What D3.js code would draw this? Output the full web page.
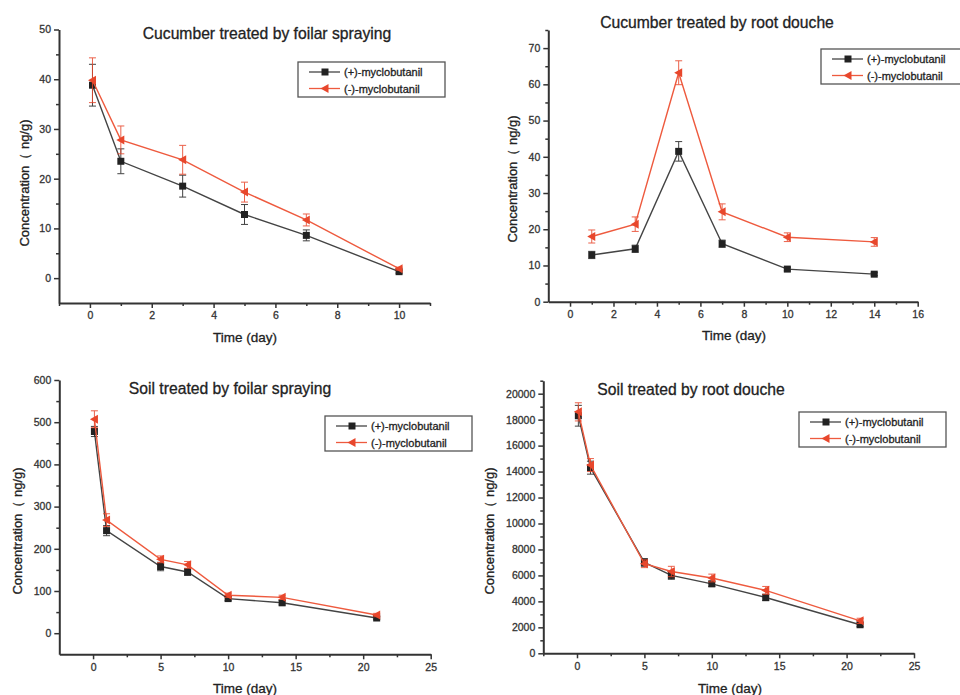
<!DOCTYPE html>
<html>
<head>
<meta charset="utf-8">
<script src="https://cdn.jsdelivr.net/npm/d3@7"></script>
<style>
  body { margin: 0; background: #fff; }
  svg { font-family: "Liberation Sans", Arial, sans-serif; }
  text { stroke: #222; stroke-width: 0.3; }
  .tick text { fill: #333; stroke: #333; font-size: 10.5px; }
  .domain, .tick line { stroke: #333; }
</style>
</head>
<body>
<div id="chart"></div>
<script>

// values
var seriesNames = ["(+)-myclobutanil", "(-)-myclobutanil"];

var cucFoliarDays = [0.083, 1, 3, 5, 7, 10];
var cucFoliarPlus = [38.8, 23.5, 18.5, 12.8, 8.6, 1.3];
var cucFoliarPlusErr = [4.2, 2.5, 2.2, 2.0, 1.1, 0.3];
var cucFoliarMinus = [39.8, 27.8, 23.8, 17.3, 11.7, 1.9];
var cucFoliarMinusErr = [4.5, 2.8, 2.9, 2.0, 1.2, 0.3];

var cucRootDays = [1, 3, 5, 7, 10, 14];
var cucRootPlus = [12.9, 14.6, 41.5, 16.0, 9.0, 7.6];
var cucRootPlusErr = [1.0, 1.0, 2.7, 1.0, 0.5, 0.4];
var cucRootMinus = [18.0, 21.4, 63.2, 24.8, 17.8, 16.5];
var cucRootMinusErr = [1.8, 2.0, 3.3, 2.2, 1.2, 1.2];

var soilFoliarDays = [0.1, 1, 5, 7, 10, 14, 21];
var soilFoliarPlus = [478, 243, 158, 145, 82, 72, 36];
var soilFoliarPlusErr = [12, 12, 10, 8, 5, 5, 3];
var soilFoliarMinus = [507, 268, 175, 162, 90, 85, 43];
var soilFoliarMinusErr = [20, 15, 8, 8, 5, 5, 4];

var soilRootDays = [0.1, 1, 5, 7, 10, 14, 21];
var soilRootPlus = [18300, 14300, 7000, 6000, 5350, 4300, 2200];
var soilRootPlusErr = [800, 500, 300, 300, 200, 250, 150];
var soilRootMinus = [18600, 14500, 6900, 6300, 5800, 4850, 2500];
var soilRootMinusErr = [700, 500, 300, 400, 300, 300, 200];

var titles = ["Cucumber treated by foilar spraying", "Cucumber treated by root douche",
              "Soil treated by foilar spraying", "Soil treated by root douche"];

var colors = ["#222", "#e8472c"];
var lineColors = ["#444", "#ee5a3e"];

var svg = d3.select("#chart").append("svg")
    .attr("width", 960)
    .attr("height", 695);

function drawPanel(p) {
    var x = d3.scaleLinear().domain(p.xDomain).range(p.xRange);
    var y = d3.scaleLinear().domain(p.yDomain).range(p.yRange);
    var g = svg.append("g");

    // minor ticks first, then the labelled ones
    g.append("g")
        .attr("transform", "translate(0," + p.yRange[0] + ")")
        .call(d3.axisBottom(x).tickValues(p.xMinor).tickSize(3).tickFormat(""))
        .call(function(a) { a.select(".domain").remove(); a.selectAll("line").attr("stroke-width", 1.5); });
    g.append("g")
        .attr("transform", "translate(" + p.xRange[0] + ",0)")
        .call(d3.axisLeft(y).tickValues(p.yMinor).tickSize(3).tickFormat(""))
        .call(function(a) { a.select(".domain").remove(); a.selectAll("line").attr("stroke-width", 1.5); });

    g.append("g")
        .attr("transform", "translate(0," + p.yRange[0] + ")")
        .call(d3.axisBottom(x).tickValues(p.xTicks).tickSize(5).tickSizeOuter(0).tickPadding(4).tickFormat(d3.format("d")))
        .call(function(a) {
            a.select(".domain").attr("stroke-width", 2);
            a.selectAll("line").attr("stroke-width", 1.5);
        });
    g.append("g")
        .attr("transform", "translate(" + p.xRange[0] + ",0)")
        .call(d3.axisLeft(y).tickValues(p.yTicks).tickSize(5).tickSizeOuter(0).tickPadding(3).tickFormat(d3.format("d")))
        .call(function(a) {
            a.select(".domain").attr("stroke-width", 2);
            a.selectAll("line").attr("stroke-width", 1.5);
        });

    // series
    p.series.forEach(function(s, i) {
        var pts = p.days.map(function(d, k) { return {x: d, y: s.v[k], e: s.err[k]}; });
        var line = d3.line()
            .x(function(d) { return x(d.x); })
            .y(function(d) { return y(d.y); });

        g.append("path")
            .datum(pts)
            .attr("fill", "none")
            .attr("stroke", lineColors[i])
            .attr("stroke-width", 1.4)
            .attr("d", line);

        var eb = g.append("g").attr("stroke", colors[i]).attr("stroke-width", 1).attr("opacity", 0.85);
        eb.selectAll(".v").data(pts).enter().append("line")
            .attr("x1", function(d) { return x(d.x); })
            .attr("x2", function(d) { return x(d.x); })
            .attr("y1", function(d) { return y(d.y - d.e); })
            .attr("y2", function(d) { return y(d.y + d.e); });
        [-1, 1].forEach(function(sign) {
            eb.selectAll(".c" + sign).data(pts).enter().append("line")
                .attr("x1", function(d) { return x(d.x) - 3.5; })
                .attr("x2", function(d) { return x(d.x) + 3.5; })
                .attr("y1", function(d) { return y(d.y + sign * d.e); })
                .attr("y2", function(d) { return y(d.y + sign * d.e); });
        });

        g.selectAll(".m" + i).data(pts).enter().append("path")
            .attr("transform", function(d) { return "translate(" + x(d.x) + "," + y(d.y) + ")"; })
            .attr("d", i === 0 ? "M-3.5,-3.5H3.5V3.5H-3.5Z" : "M-4.5,0L3.5,-4.5L3.5,4.5Z")
            .attr("fill", colors[i]);
    });

    // titles
    g.append("text")
        .attr("x", p.title[0]).attr("y", p.title[1])
        .attr("text-anchor", "middle")
        .attr("font-size", 15.7)
        .attr("fill", "#222")
        .text(p.name);
    g.append("text")
        .attr("x", p.xLabel[0]).attr("y", p.xLabel[1])
        .attr("text-anchor", "middle")
        .attr("font-size", 13.5)
        .attr("fill", "#222")
        .text("Time (day)");
    g.append("text")
        .attr("transform", "translate(" + p.yLabel[0] + "," + p.yLabel[1] + ") rotate(-90)")
        .attr("text-anchor", "middle")
        .attr("font-size", 13)
        .attr("fill", "#222")
        .text("Concentration（ ng/g)");

    // legend
    var lg = g.append("g").attr("transform", "translate(" + p.legend[0] + "," + p.legend[1] + ")");
    lg.append("rect")
        .attr("width", 147).attr("height", 35)
        .attr("fill", "#fff")
        .attr("stroke", "#555")
        .attr("stroke-width", 1.3);
    seriesNames.forEach(function(n, i) {
        var ry = 10 + i * 16.5;
        lg.append("line")
            .attr("x1", 11).attr("x2", 42).attr("y1", ry).attr("y2", ry)
            .attr("stroke", lineColors[i]).attr("stroke-width", 1.3);
        lg.append("path")
            .attr("transform", "translate(27," + ry + ")")
            .attr("d", i === 0 ? "M-3.5,-3.5H3.5V3.5H-3.5Z" : "M-4.5,0L3.5,-4.5L3.5,4.5Z")
            .attr("fill", colors[i]);
        lg.append("text")
            .attr("x", 46).attr("y", ry + 4)
            .attr("font-size", 11)
            .attr("fill", "#222")
            .text(n);
    });
}

drawPanel({
    name: titles[0],
    days: cucFoliarDays,
    series: [{v: cucFoliarPlus, err: cucFoliarPlusErr}, {v: cucFoliarMinus, err: cucFoliarMinusErr}],
    xDomain: [-1, 11], xRange: [59, 430],
    yDomain: [-5, 50], yRange: [303, 29.5],
    xTicks: [0, 2, 4, 6, 8, 10], xMinor: [-1, 1, 3, 5, 7, 9, 11],
    yTicks: [0, 10, 20, 30, 40, 50], yMinor: [5, 15, 25, 35, 45],
    title: [267, 39], xLabel: [245, 342], yLabel: [29, 183],
    legend: [298, 62]
});

drawPanel({
    name: titles[1],
    days: cucRootDays,
    series: [{v: cucRootPlus, err: cucRootPlusErr}, {v: cucRootMinus, err: cucRootMinusErr}],
    xDomain: [-1, 16], xRange: [548.3, 917.7],
    yDomain: [0, 75], yRange: [301.7, 30],
    xTicks: [0, 2, 4, 6, 8, 10, 12, 14, 16], xMinor: [1, 3, 5, 7, 9, 11, 13, 15],
    yTicks: [0, 10, 20, 30, 40, 50, 60, 70], yMinor: [5, 15, 25, 35, 45, 55, 65, 75],
    title: [717, 28], xLabel: [734, 340], yLabel: [517, 179],
    legend: [821, 49]
});

drawPanel({
    name: titles[2],
    days: soilFoliarDays,
    series: [{v: soilFoliarPlus, err: soilFoliarPlusErr}, {v: soilFoliarMinus, err: soilFoliarMinusErr}],
    xDomain: [-2.5, 25], xRange: [59.3, 430.7],
    yDomain: [-50, 600], yRange: [654.3, 380],
    xTicks: [0, 5, 10, 15, 20, 25], xMinor: [2.5, 7.5, 12.5, 17.5, 22.5],
    yTicks: [0, 100, 200, 300, 400, 500, 600], yMinor: [50, 150, 250, 350, 450, 550],
    title: [230, 394], xLabel: [245, 693], yLabel: [22, 531],
    legend: [325, 416]
});

drawPanel({
    name: titles[3],
    days: soilRootDays,
    series: [{v: soilRootPlus, err: soilRootPlusErr}, {v: soilRootMinus, err: soilRootMinusErr}],
    xDomain: [-2.5, 25], xRange: [543.3, 914],
    yDomain: [0, 21000], yRange: [653.3, 380.7],
    xTicks: [0, 5, 10, 15, 20, 25], xMinor: [-2.5, 2.5, 7.5, 12.5, 17.5, 22.5],
    yTicks: d3.range(0, 20001, 2000), yMinor: d3.range(1000, 21001, 2000),
    title: [691, 395], xLabel: [730, 693], yLabel: [494, 531],
    legend: [799, 412]
});

</script>
</body>
</html>
